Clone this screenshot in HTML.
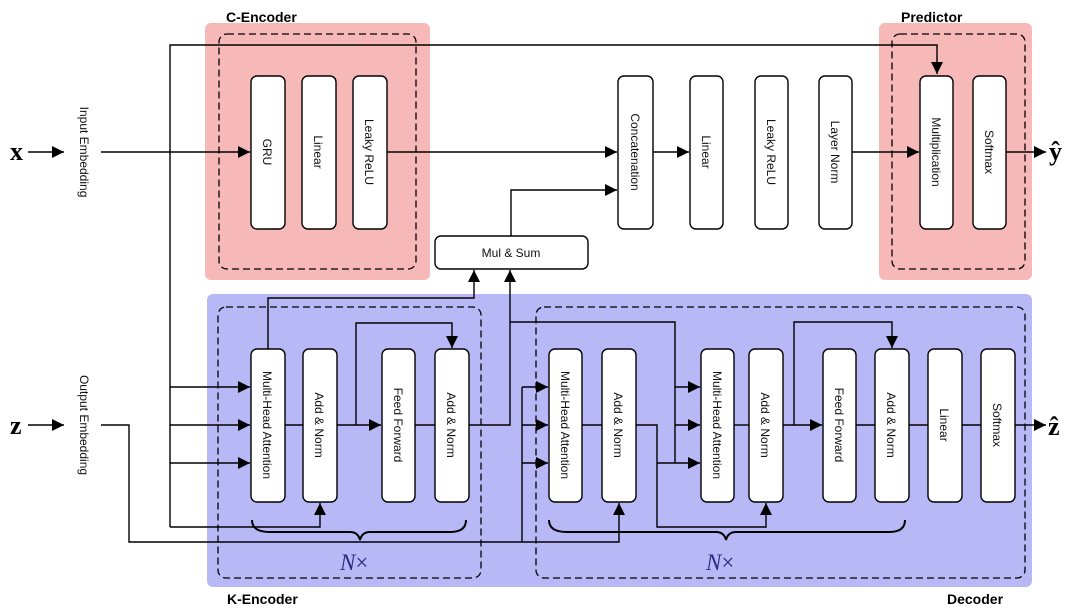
<!DOCTYPE html>
<html><head><meta charset="utf-8"><style>
html,body{margin:0;padding:0;background:#fff;}
svg{display:block;}
.s{font-family:"Liberation Sans",sans-serif;}
</style></head><body>
<svg width="1080" height="614" viewBox="0 0 1080 614" xmlns="http://www.w3.org/2000/svg">
<defs>
<marker id="b" viewBox="0 0 10 10" refX="10" refY="5" markerWidth="14" markerHeight="12" markerUnits="userSpaceOnUse" orient="auto"><path d="M0,0 L10,5 L0,10 z" fill="#000"/></marker>
</defs>
<rect x="205" y="23" width="225" height="257" rx="6" fill="#f7b8b8"/>
<rect x="879" y="23" width="153" height="257" rx="6" fill="#f7b8b8"/>
<rect x="207" y="294" width="825" height="293" rx="6" fill="#b8b8f6"/>
<g fill="none" stroke="#000" stroke-width="1.3" stroke-dasharray="7,4">
<rect x="219" y="34" width="197" height="235" rx="8"/>
<rect x="892" y="34" width="133" height="235" rx="8"/>
<rect x="218" y="307" width="263" height="271" rx="8"/>
<rect x="536" y="307" width="489" height="271" rx="8"/>
</g>
<g class="s" font-weight="bold" font-size="14">
<text x="226" y="22">C-Encoder</text>
<text x="901" y="22">Predictor</text>
<text x="227" y="604">K-Encoder</text>
<text x="947" y="604">Decoder</text>
</g>
<g fill="none" stroke="#000" stroke-width="1.4">
<path d="M28,152 H64" marker-end="url(#b)"/>
<path d="M28,425 H64" marker-end="url(#b)"/>
<path d="M101,152 H250" marker-end="url(#b)"/>
<path d="M387,152 H617" marker-end="url(#b)"/>
<path d="M653,152 H689" marker-end="url(#b)"/>
<path d="M851,152 H919" marker-end="url(#b)"/>
<path d="M1005,152 H1046" marker-end="url(#b)"/>
<path d="M170,527 V45 H937 V74" marker-end="url(#b)"/>
<path d="M511,236 V190 H617" marker-end="url(#b)"/>
<path d="M170,387 H250" marker-end="url(#b)"/>
<path d="M170,425 H250" marker-end="url(#b)"/>
<path d="M170,463 H250" marker-end="url(#b)"/>
<path d="M170,527 H320 V503" marker-end="url(#b)"/>
<path d="M268,349 V298 H474 V270" marker-end="url(#b)"/>
<path d="M469,425 H510 V270" marker-end="url(#b)"/>
<path d="M510,322 H675 V463"/>
<path d="M675,387 H700" marker-end="url(#b)"/>
<path d="M675,425 H700" marker-end="url(#b)"/>
<path d="M101,425 H129 V542 H619 V503" marker-end="url(#b)"/>
<path d="M522,542 V387"/>
<path d="M522,387 H548" marker-end="url(#b)"/>
<path d="M522,425 H548" marker-end="url(#b)"/>
<path d="M522,463 H548" marker-end="url(#b)"/>
<path d="M285,425 H303"/>
<path d="M337,425 H381" marker-end="url(#b)"/>
<path d="M356,425 V323 H452 V348" marker-end="url(#b)"/>
<path d="M415,425 H435"/>
<path d="M582,425 H602"/>
<path d="M636,425 H657 V527 H766 V503" marker-end="url(#b)"/>
<path d="M657,463 H700" marker-end="url(#b)"/>
<path d="M734,425 H749"/>
<path d="M783,425 H822" marker-end="url(#b)"/>
<path d="M794,425 V322 H892 V348" marker-end="url(#b)"/>
<path d="M856,425 H875"/>
<path d="M909,425 H928"/>
<path d="M962,425 H981"/>
<path d="M1015,425 H1046" marker-end="url(#b)"/>
</g>
<g fill="none" stroke="#000" stroke-width="2">
<path d="M252,520 Q252,532 270,532 H350 Q358,532 360,540 Q362,532 370,532 H450 Q466,532 466,520"/>
<path d="M549,520 Q549,532 567,532 H716 Q724,532 726,540 Q728,532 736,532 H889 Q905,532 905,520"/>
</g>
<g style="font-family:'Liberation Serif',serif" font-size="23" fill="#2a2a80">
<text x="340" y="570"><tspan font-style="italic">N</tspan>×</text>
<text x="706" y="570"><tspan font-style="italic">N</tspan>×</text>
</g>
<g fill="#fff" stroke="#000" stroke-width="1.4">
<rect x="251" y="76" width="34" height="153" rx="6"/>
<rect x="302" y="76" width="34" height="153" rx="6"/>
<rect x="353" y="76" width="34" height="153" rx="6"/>
<rect x="618" y="76" width="35" height="153" rx="6"/>
<rect x="690" y="76" width="33" height="153" rx="6"/>
<rect x="755" y="76" width="33" height="153" rx="6"/>
<rect x="819" y="76" width="33" height="153" rx="6"/>
<rect x="920" y="76" width="33" height="153" rx="6"/>
<rect x="973" y="76" width="33" height="153" rx="6"/>
<rect x="435" y="236" width="153" height="33" rx="6"/>
<rect x="251" y="349" width="34" height="153" rx="6"/>
<rect x="303" y="349" width="34" height="153" rx="6"/>
<rect x="382" y="349" width="33" height="153" rx="6"/>
<rect x="435" y="349" width="34" height="153" rx="6"/>
<rect x="549" y="349" width="33" height="153" rx="6"/>
<rect x="602" y="349" width="34" height="153" rx="6"/>
<rect x="701" y="349" width="33" height="153" rx="6"/>
<rect x="749" y="349" width="34" height="153" rx="6"/>
<rect x="823" y="349" width="33" height="153" rx="6"/>
<rect x="875" y="349" width="34" height="153" rx="6"/>
<rect x="928" y="349" width="34" height="153" rx="6"/>
<rect x="981" y="349" width="34" height="153" rx="6"/>
</g>
<g class="s" font-size="12" fill="#111" text-anchor="middle">
<text x="511" y="257">Mul &amp; Sum</text>
<text transform="translate(263,152) rotate(90)">GRU</text>
<text transform="translate(314,152) rotate(90)">Linear</text>
<text transform="translate(365,152) rotate(90)">Leaky ReLU</text>
<text transform="translate(631,152) rotate(90)">Concatenation</text>
<text transform="translate(702,152) rotate(90)">Linear</text>
<text transform="translate(767,152) rotate(90)">Leaky ReLU</text>
<text transform="translate(831,152) rotate(90)">Layer Norm</text>
<text transform="translate(932,152) rotate(90)">Multiplication</text>
<text transform="translate(985,152) rotate(90)">Softmax</text>
<text transform="translate(80,152) rotate(90)">Input Embedding</text>
<text transform="translate(80,425) rotate(90)">Output Embedding</text>
<text transform="translate(263,425) rotate(90)">Multi-Head Attention</text>
<text transform="translate(315,425) rotate(90)">Add &amp; Norm</text>
<text transform="translate(394,425) rotate(90)">Feed Forward</text>
<text transform="translate(447,425) rotate(90)">Add &amp; Norm</text>
<text transform="translate(561,425) rotate(90)">Multi-Head Attention</text>
<text transform="translate(614,425) rotate(90)">Add &amp; Norm</text>
<text transform="translate(713,425) rotate(90)">Multi-Head Attention</text>
<text transform="translate(761,425) rotate(90)">Add &amp; Norm</text>
<text transform="translate(835,425) rotate(90)">Feed Forward</text>
<text transform="translate(887,425) rotate(90)">Add &amp; Norm</text>
<text transform="translate(940,425) rotate(90)">Linear</text>
<text transform="translate(993,425) rotate(90)">Softmax</text>
</g>
<g style="font-family:'Liberation Serif',serif" font-weight="bold" font-size="26" fill="#000">
<text x="10" y="160">x</text>
<text x="10" y="434">z</text>
<text x="1049" y="160">ŷ</text>
<text x="1048" y="435">ẑ</text>
</g>
</svg>
</body></html>
